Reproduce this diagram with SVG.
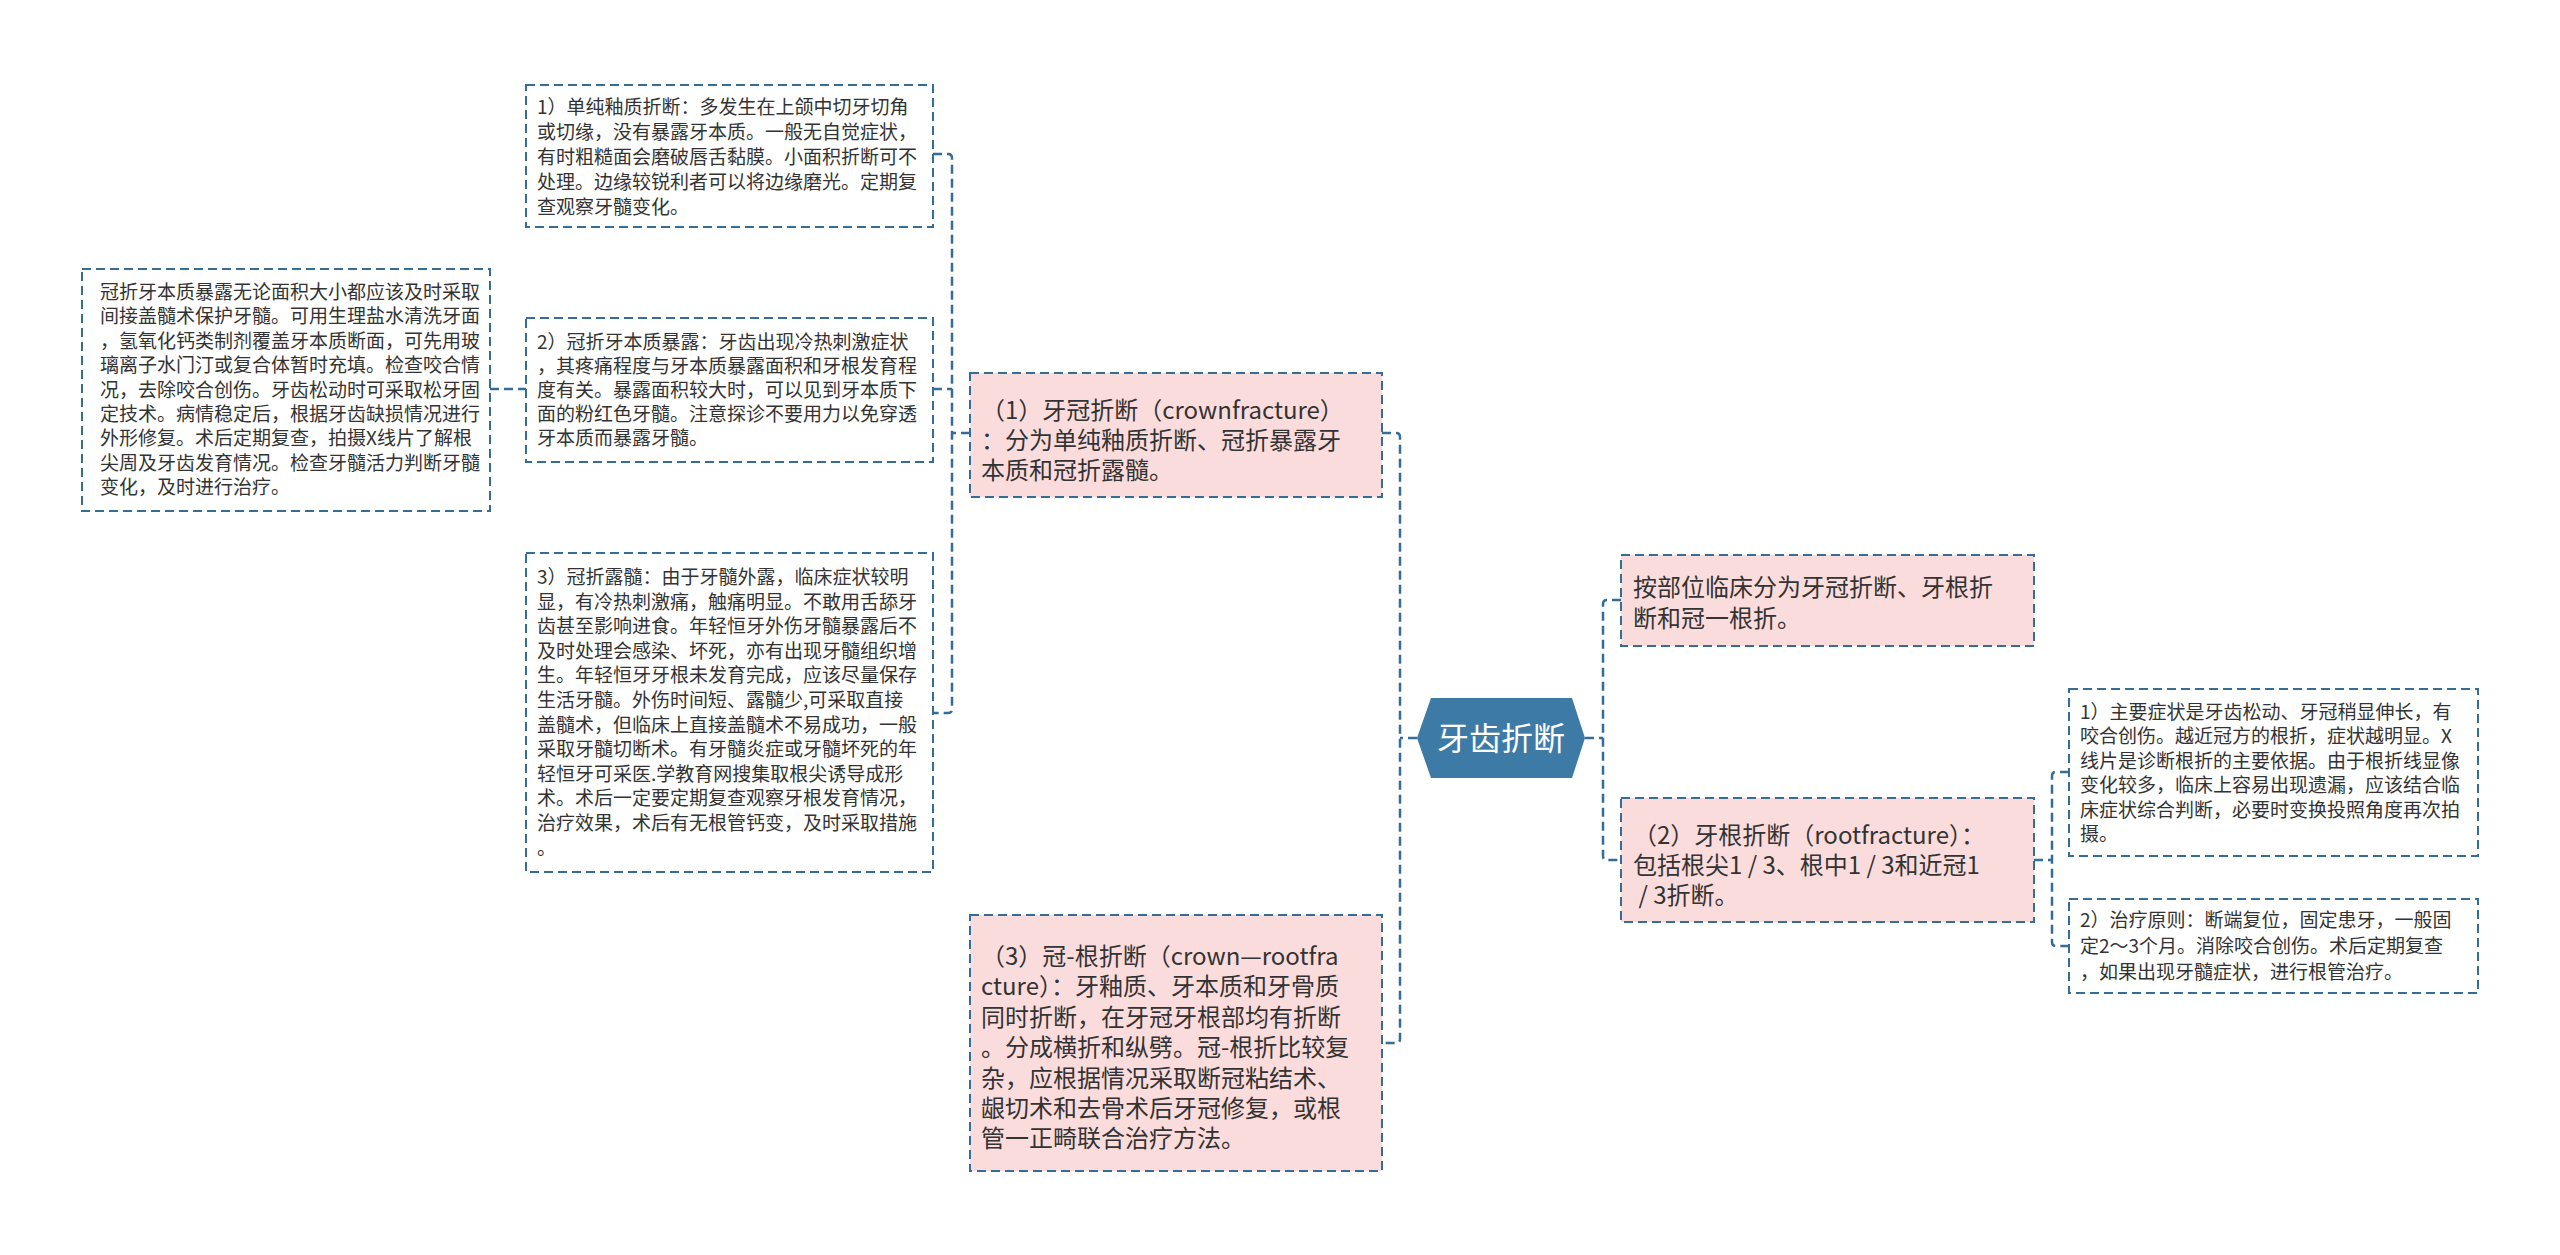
<svg xmlns="http://www.w3.org/2000/svg" width="2560" height="1255" viewBox="0 0 2560 1255">
<style>
.bg{fill:#ffffff}
.box{fill:#ffffff;stroke:#356d96;stroke-width:2;stroke-dasharray:9 5}
.pink{fill:#fbdcdc;stroke:#356d96;stroke-width:2;stroke-dasharray:9 5}
.conn{fill:none;stroke:#356d96;stroke-width:2.5;stroke-dasharray:9 5}
.s{font-family:"Noto Sans CJK SC","Noto Sans",sans-serif;font-size:19px;fill:#333333}
.m{font-family:"Noto Sans CJK SC","Noto Sans",sans-serif;font-size:24px;fill:#333333}
.hex{fill:#3d7ba6}
.ht{font-family:"Noto Sans CJK SC","Noto Sans",sans-serif;font-size:32px;fill:#ffffff}
</style>
<rect class="bg" x="0" y="0" width="2560" height="1255"/>
<g id="connectors">
<path class="conn" d="M933,154 H948 Q952,154 952,158 V709 Q952,713 948,713 H933"/>
<path class="conn" d="M933,389 H952"/>
<path class="conn" d="M970,433 H952"/>
<path class="conn" d="M490,389 H526"/>
<path class="conn" d="M1382,433 H1396 Q1400,433 1400,437 V1039 Q1400,1043 1396,1043 H1382"/>
<path class="conn" d="M1417,738 H1400"/>
<path class="conn" d="M1585,738 H1603"/>
<path class="conn" d="M1621,600 H1607 Q1603,600 1603,604 V856 Q1603,860 1607,860 H1621"/>
<path class="conn" d="M2034,860 H2052"/>
<path class="conn" d="M2069,772 H2056 Q2052,772 2052,776 V942 Q2052,946 2056,946 H2069"/>
</g>
<g id="root">
<polygon class="hex" points="1417,738 1431,698 1572,698 1585,738 1572,778 1431,778"/>
<text class="ht" x="1501" y="750" text-anchor="middle">牙齿折断</text>
</g>
<g id="n1">
<rect class="box" x="526" y="85" width="407" height="142"/>
<text class="s"><tspan x="537" y="114">1）单纯釉质折断：多发生在上颌中切牙切角</tspan><tspan x="537" y="139">或切缘，没有暴露牙本质。一般无自觉症状，</tspan><tspan x="537" y="164">有时粗糙面会磨破唇舌黏膜。小面积折断可不</tspan><tspan x="537" y="189">处理。边缘较锐利者可以将边缘磨光。定期复</tspan><tspan x="537" y="214">查观察牙髓变化。</tspan></text>
</g>
<g id="n2">
<rect class="box" x="82" y="269" width="408" height="242"/>
<text class="s"><tspan x="100" y="299">冠折牙本质暴露无论面积大小都应该及时采取</tspan><tspan x="100" y="323">间接盖髓术保护牙髓。可用生理盐水清洗牙面</tspan><tspan x="100" y="348">，氢氧化钙类制剂覆盖牙本质断面，可先用玻</tspan><tspan x="100" y="372">璃离子水门汀或复合体暂时充填。检查咬合情</tspan><tspan x="100" y="397">况，去除咬合创伤。牙齿松动时可采取松牙固</tspan><tspan x="100" y="421">定技术。病情稳定后，根据牙齿缺损情况进行</tspan><tspan x="100" y="445">外形修复。术后定期复查，拍摄X线片了解根</tspan><tspan x="100" y="470">尖周及牙齿发育情况。检查牙髓活力判断牙髓</tspan><tspan x="100" y="494">变化，及时进行治疗。</tspan></text>
</g>
<g id="n3">
<rect class="box" x="526" y="318" width="407" height="144"/>
<text class="s"><tspan x="537" y="349">2）冠折牙本质暴露：牙齿出现冷热刺激症状</tspan><tspan x="537" y="373">，其疼痛程度与牙本质暴露面积和牙根发育程</tspan><tspan x="537" y="397">度有关。暴露面积较大时，可以见到牙本质下</tspan><tspan x="537" y="421">面的粉红色牙髓。注意探诊不要用力以免穿透</tspan><tspan x="537" y="445">牙本质而暴露牙髓。</tspan></text>
</g>
<g id="n4">
<rect class="box" x="526" y="553" width="407" height="319"/>
<text class="s"><tspan x="537" y="584">3）冠折露髓：由于牙髓外露，临床症状较明</tspan><tspan x="537" y="609">显，有冷热刺激痛，触痛明显。不敢用舌舔牙</tspan><tspan x="537" y="633">齿甚至影响进食。年轻恒牙外伤牙髓暴露后不</tspan><tspan x="537" y="658">及时处理会感染、坏死，亦有出现牙髓组织增</tspan><tspan x="537" y="682">生。年轻恒牙牙根未发育完成，应该尽量保存</tspan><tspan x="537" y="707">生活牙髓。外伤时间短、露髓少,可采取直接</tspan><tspan x="537" y="732">盖髓术，但临床上直接盖髓术不易成功，一般</tspan><tspan x="537" y="756">采取牙髓切断术。有牙髓炎症或牙髓坏死的年</tspan><tspan x="537" y="781">轻恒牙可采医.学教育网搜集取根尖诱导成形</tspan><tspan x="537" y="805">术。术后一定要定期复查观察牙根发育情况，</tspan><tspan x="537" y="830">治疗效果，术后有无根管钙变，及时采取措施</tspan><tspan x="537" y="855">。</tspan></text>
</g>
<g id="n5">
<rect class="pink" x="970" y="373" width="412" height="124"/>
<text class="m"><tspan x="981" y="419">（1）牙冠折断（crownfracture）</tspan><tspan x="981" y="449">：分为单纯釉质折断、冠折暴露牙</tspan><tspan x="981" y="479">本质和冠折露髓。</tspan></text>
</g>
<g id="n6">
<rect class="pink" x="970" y="915" width="412" height="256"/>
<text class="m"><tspan x="981" y="965">（3）冠-根折断（crown—rootfra</tspan><tspan x="981" y="995">cture）：牙釉质、牙本质和牙骨质</tspan><tspan x="981" y="1026">同时折断，在牙冠牙根部均有折断</tspan><tspan x="981" y="1056">。分成横折和纵劈。冠-根折比较复</tspan><tspan x="981" y="1087">杂，应根据情况采取断冠粘结术、</tspan><tspan x="981" y="1117">龈切术和去骨术后牙冠修复，或根</tspan><tspan x="981" y="1147">管一正畸联合治疗方法。</tspan></text>
</g>
<g id="n7">
<rect class="pink" x="1621" y="555" width="413" height="91"/>
<text class="m"><tspan x="1633" y="596">按部位临床分为牙冠折断、牙根折</tspan><tspan x="1633" y="627">断和冠一根折。</tspan></text>
</g>
<g id="n8">
<rect class="pink" x="1621" y="798" width="413" height="124"/>
<text class="m"><tspan x="1633" y="844">（2）牙根折断（rootfracture）：</tspan><tspan x="1633" y="874">包括根尖1 / 3、根中1 / 3和近冠1</tspan><tspan x="1633" y="904"> / 3折断。</tspan></text>
</g>
<g id="n9">
<rect class="box" x="2069" y="689" width="409" height="167"/>
<text class="s"><tspan x="2080" y="719">1）主要症状是牙齿松动、牙冠稍显伸长，有</tspan><tspan x="2080" y="743">咬合创伤。越近冠方的根折，症状越明显。X</tspan><tspan x="2080" y="768">线片是诊断根折的主要依据。由于根折线显像</tspan><tspan x="2080" y="792">变化较多，临床上容易出现遗漏，应该结合临</tspan><tspan x="2080" y="817">床症状综合判断，必要时变换投照角度再次拍</tspan><tspan x="2080" y="841">摄。</tspan></text>
</g>
<g id="n10">
<rect class="box" x="2069" y="899" width="409" height="94"/>
<text class="s"><tspan x="2080" y="927">2）治疗原则：断端复位，固定患牙，一般固</tspan><tspan x="2080" y="953">定2～3个月。消除咬合创伤。术后定期复查</tspan><tspan x="2080" y="979">，如果出现牙髓症状，进行根管治疗。</tspan></text>
</g>
</svg>
